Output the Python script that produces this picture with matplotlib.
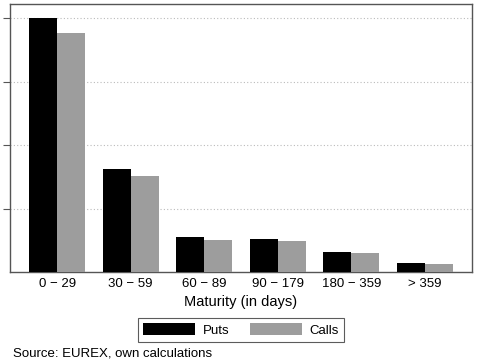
import matplotlib
matplotlib.use("Agg")
import matplotlib.pyplot as plt
import numpy as np

plt.rcParams['font.family'] = ['Liberation Sans', 'DejaVu Sans']

categories = ["0 \u2212 29", "30 \u2212 59", "60 \u2212 89", "90 \u2212 179", "180 \u2212 359", "> 359"]
puts = [4.00, 1.62, 0.557, 0.516, 0.315, 0.137]
calls = [3.765, 1.514, 0.509, 0.484, 0.295, 0.131]
yticks = [1, 2, 3, 4]

fig = plt.figure(figsize=(4.81, 3.61), dpi=100)
ax = fig.add_axes([10/481, 1-272/361, 462/481, (272-4.3)/361])

x = np.arange(len(categories))
w = 0.38
ax.bar(x - w/2, puts, width=w, color='black', label='Puts', zorder=3)
ax.bar(x + w/2, calls, width=w, color='#9d9d9d', label='Calls', zorder=3)

ax.set_xlim(-0.64, 5.64)
ax.set_ylim(0, 4.22)
ax.set_yticks(yticks)
ax.set_yticklabels([])
ax.yaxis.grid(True, linestyle=(0, (1, 2)), color='#bbbbbb', linewidth=0.8, zorder=0)
ax.set_xticks(x)
ax.set_xticklabels(categories, fontsize=9.5)
ax.tick_params(axis='x', length=0, pad=4)
ax.tick_params(axis='y', length=5, width=0.8, color='#555555', direction='out')
for s in ax.spines.values():
    s.set_color('#555555')
    s.set_linewidth(1.0)
ax.set_xlabel("Maturity (in days)", fontsize=10.5, labelpad=4)

leg = fig.legend(loc='center', bbox_to_anchor=(241/481, 1-330/361), ncol=2,
                 fontsize=9.5, frameon=True, fancybox=False, edgecolor='#333333',
                 handlelength=3.9, handleheight=1.0, columnspacing=1.6,
                 handletextpad=0.6, borderpad=0.4, borderaxespad=0)
leg.get_frame().set_linewidth(0.8)

fig.text(13/481, 1-353/361, "Source: EUREX, own calculations", fontsize=9.5, va='center', ha='left')

fig.savefig("out.png", dpi=100)
